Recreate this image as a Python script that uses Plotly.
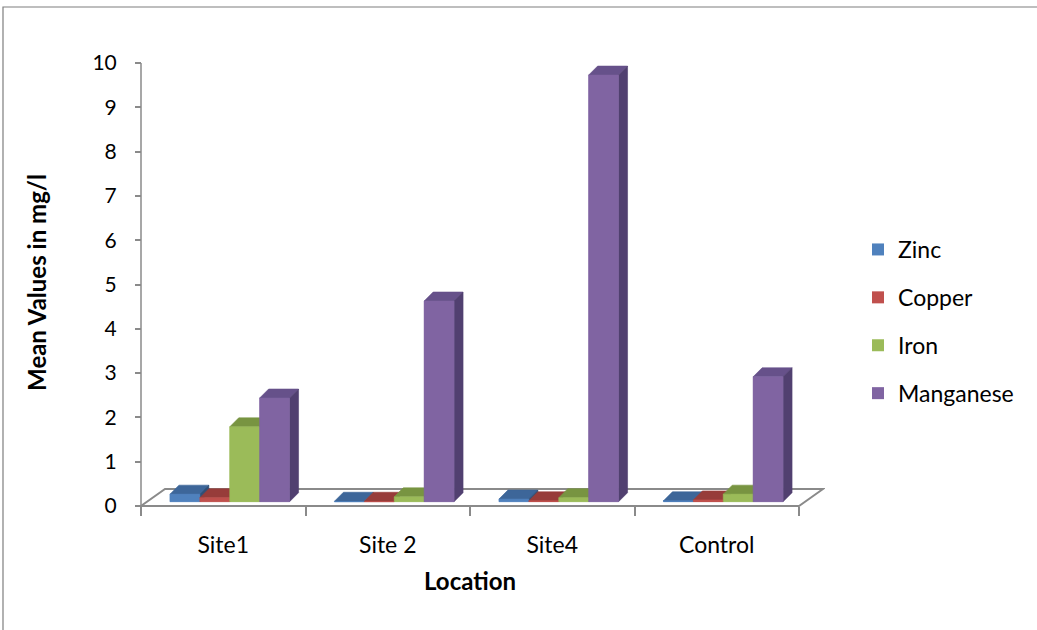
import plotly.graph_objects as go

# ---- data -----------------------------------------------------------------
locations = ["Site1", "Site 2", "Site4", "Control"]
metals = ["Zinc", "Copper", "Iron", "Manganese"]
zinc = [0.17, 0.01, 0.06, 0.02]
copper = [0.09, 0.01, 0.02, 0.04]
iron = [1.69, 0.11, 0.09, 0.17]
manganese = [2.34, 4.53, 9.63, 2.82]
y_ticks = list(range(0, 11))

series = [zinc, copper, iron, manganese]

# face colours: front, top, side
front_colors = ["#4F81BD", "#C0504D", "#9BBB59", "#8064A2"]
top_colors = ["#3D6699", "#973C3A", "#789441", "#66518A"]
side_colors = ["#2F5078", "#7A2F2D", "#5F7634", "#514070"]

# ---- layout geometry (pixels) ----------------------------------------------
W, H = 1037, 630
L, R, T, B = 115, 825, 40, 525
X_LEFT_PX, PX_X = 141, 164.5      # category -0.5 sits at x=141
Y_ZERO_PX, PX_Y = 506, 44.3        # value 0 sits at y=506

x_range = [-0.5 - (X_LEFT_PX - L) / PX_X, -0.5 + (R - X_LEFT_PX) / PX_X]
y_range = [-(B - Y_ZERO_PX) / PX_Y, (Y_ZERO_PX - T) / PX_Y]

# 3-D look: floor depth, bar depth, bar position inside the floor
floor_dx, floor_dy = 24 / PX_X, 17 / PX_Y
bar_dx, bar_dy = 9 / PX_X, 9 / PX_Y
bar_base = 4.3 / PX_Y
bar_shift = 6.5 / PX_X
bargap = 0.273
bar_w = (1 - bargap) / len(metals)

FONT = "Lato, 'Open Sans', sans-serif"

fig = go.Figure()

# front faces as real bars (also carry the legend)
for k, name in enumerate(metals):
    fig.add_trace(go.Bar(
        name=name,
        x=[i + bar_shift for i in range(len(locations))],
        y=series[k],
        base=bar_base,
        marker=dict(color=front_colors[k], line=dict(width=0)),
        legendgroup=name,
        hovertemplate=name + ": %{y}<extra></extra>",
    ))


def poly(xs, ys, color):
    fig.add_trace(go.Scatter(
        x=xs + [xs[0]], y=ys + [ys[0]], mode="lines", fill="toself",
        fillcolor=color, line=dict(color=color, width=0.6),
        showlegend=False, hoverinfo="skip",
    ))


# top / side faces, painted bar by bar so that neighbours overlap correctly
for i in range(len(locations)):
    for k in range(len(metals)):
        v = series[k][i]
        cx = i + bar_shift + (k - (len(metals) - 1) / 2) * bar_w
        x0, x1 = cx - bar_w / 2, cx + bar_w / 2
        b, t = bar_base, bar_base + v
        poly([x0, x1, x1 + bar_dx, x0 + bar_dx], [t, t, t + bar_dy, t + bar_dy], top_colors[k])
        poly([x1, x1 + bar_dx, x1 + bar_dx, x1], [b, b + bar_dy, t + bar_dy, t], side_colors[k])
        poly([x0, x1, x1, x0], [b, b, t, t], front_colors[k])

grey = "#8A8A8A"
shapes = [
    # floor
    dict(type="path", xref="x", yref="y", layer="below",
         path=(f"M {-0.5} 0 L {3.5} 0 L {3.5 + floor_dx} {floor_dy} "
               f"L {-0.5 + floor_dx} {floor_dy} Z"),
         line=dict(color=grey, width=2), fillcolor="white"),
    # value axis line
    dict(type="line", xref="x", yref="y", x0=-0.5, x1=-0.5, y0=0, y1=10,
         line=dict(color=grey, width=1.5)),
    # chart border
    dict(type="rect", xref="paper", yref="paper",
         x0=(3 - L) / (R - L), x1=(W + 5 - L) / (R - L),
         y0=(B - (H + 5)) / (B - T), y1=(B - 7) / (B - T),
         line=dict(color="#7F7F7F", width=1.2), layer="below"),
]

fig.update_layout(
    width=W, height=H,
    margin=dict(l=L, r=W - R, t=T, b=H - B, autoexpand=False),
    paper_bgcolor="white", plot_bgcolor="rgba(0,0,0,0)",
    barmode="group", bargap=bargap, bargroupgap=0,
    font=dict(family=FONT, color="black"),
    shapes=shapes,
    showlegend=True,
    legend=dict(
        x=(858 - L) / (R - L), xanchor="left",
        y=(B - 228) / (B - T), yanchor="top",
        font=dict(size=23, family=FONT), tracegroupgap=15,
        bgcolor="rgba(0,0,0,0)",
    ),
    xaxis=dict(
        range=x_range, anchor="free", position=(B - Y_ZERO_PX) / (B - T),
        tickmode="array", tickvals=list(range(len(locations))), ticktext=locations,
        ticks="", ticklabelstandoff=23, tickfont=dict(size=23),
        minor=dict(tickmode="array", tickvals=[-0.5, 0.5, 1.5, 2.5, 3.5],
                   ticks="outside", ticklen=9, tickcolor=grey, tickwidth=1.5),
        showgrid=False, zeroline=False, showline=False,
        title=dict(text="<b>Location</b>", font=dict(size=24), standoff=16),
        fixedrange=True,
    ),
    yaxis=dict(
        range=y_range, anchor="free", position=(X_LEFT_PX - L) / (R - L),
        tickmode="array", tickvals=y_ticks,
        ticks="outside", ticklen=6, tickcolor=grey, tickwidth=1.5,
        ticklabelstandoff=14, tickfont=dict(size=21),
        showgrid=False, zeroline=False, showline=False,
        title=dict(text="<b>Mean Values in mg/l</b>", font=dict(size=24), standoff=38),
        fixedrange=True,
    ),
)

fig.write_html("out.html")
